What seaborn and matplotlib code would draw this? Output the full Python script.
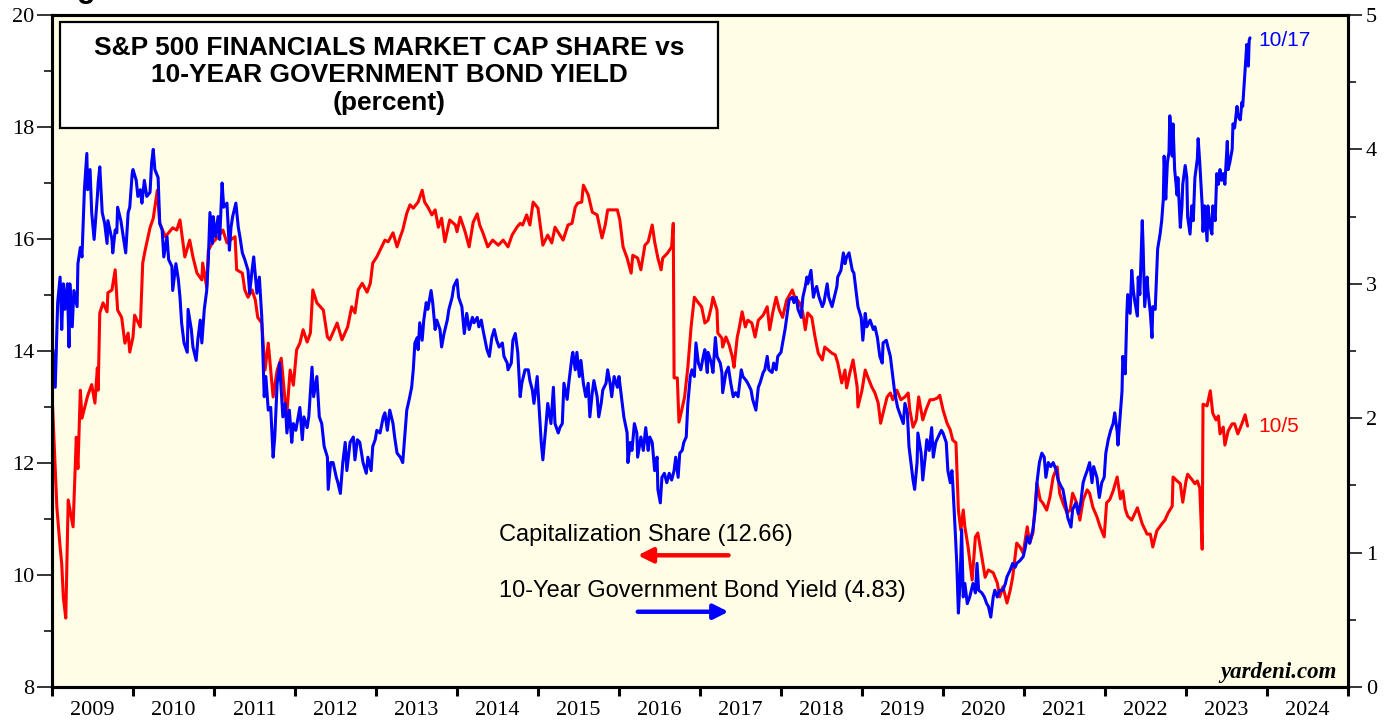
import matplotlib
matplotlib.use("Agg")
import matplotlib.pyplot as plt
import matplotlib.patches as mpatches
from matplotlib.ticker import MultipleLocator
import pandas as pd
import seaborn as sns

# ============================
# Data
# ============================
share_year = [
    2009.00, 2009.06, 2009.10, 2009.12, 2009.14, 2009.17, 2009.20, 2009.26, 2009.30, 2009.32,
    2009.35, 2009.37, 2009.44, 2009.49, 2009.53, 2009.56, 2009.57, 2009.59, 2009.63, 2009.68,
    2009.69, 2009.74, 2009.78, 2009.81, 2009.86, 2009.90, 2009.94, 2009.96, 2010.00, 2010.02,
    2010.09, 2010.12, 2010.15, 2010.21, 2010.25, 2010.30, 2010.33, 2010.40, 2010.49, 2010.54,
    2010.58, 2010.64, 2010.70, 2010.74, 2010.79, 2010.85, 2010.86, 2010.91, 2010.93, 2010.98,
    2011.05, 2011.11, 2011.16, 2011.20, 2011.26, 2011.28, 2011.35, 2011.38, 2011.42, 2011.47,
    2011.51, 2011.54, 2011.59, 2011.63, 2011.67, 2011.73, 2011.78, 2011.83, 2011.88, 2011.90,
    2011.94, 2011.98, 2012.02, 2012.06, 2012.10, 2012.15, 2012.19, 2012.22, 2012.27, 2012.35,
    2012.40, 2012.43, 2012.52, 2012.58, 2012.65, 2012.70, 2012.74, 2012.78, 2012.83, 2012.89,
    2012.93, 2012.96, 2013.01, 2013.05, 2013.11, 2013.15, 2013.21, 2013.26, 2013.30, 2013.33,
    2013.38, 2013.42, 2013.46, 2013.52, 2013.57, 2013.60, 2013.64, 2013.69, 2013.73, 2013.77,
    2013.81, 2013.85, 2013.91, 2013.98, 2014.00, 2014.04, 2014.10, 2014.15, 2014.20, 2014.25,
    2014.28, 2014.32, 2014.38, 2014.44, 2014.51, 2014.57, 2014.63, 2014.68, 2014.74, 2014.78,
    2014.81, 2014.86, 2014.90, 2014.94, 2015.00, 2015.06, 2015.12, 2015.17, 2015.21, 2015.27,
    2015.31, 2015.37, 2015.42, 2015.46, 2015.49, 2015.54, 2015.56, 2015.62, 2015.67, 2015.73,
    2015.79, 2015.83, 2015.86, 2015.93, 2015.98, 2016.01, 2016.05, 2016.10, 2016.15, 2016.17,
    2016.23, 2016.27, 2016.32, 2016.36, 2016.41, 2016.44, 2016.48, 2016.52, 2016.54, 2016.60,
    2016.65, 2016.67, 2016.68, 2016.72, 2016.74, 2016.78, 2016.81, 2016.85, 2016.89, 2016.93,
    2016.98, 2017.02, 2017.06, 2017.10, 2017.14, 2017.16, 2017.21, 2017.22, 2017.27, 2017.28,
    2017.32, 2017.36, 2017.40, 2017.42, 2017.46, 2017.48, 2017.52, 2017.56, 2017.59, 2017.64,
    2017.68, 2017.72, 2017.78, 2017.83, 2017.86, 2017.90, 2017.94, 2017.98, 2018.02, 2018.07,
    2018.14, 2018.17, 2018.23, 2018.27, 2018.30, 2018.33, 2018.38, 2018.42, 2018.46, 2018.51,
    2018.54, 2018.58, 2018.63, 2018.67, 2018.70, 2018.75, 2018.79, 2018.81, 2018.85, 2018.89,
    2018.94, 2018.95, 2019.00, 2019.04, 2019.07, 2019.12, 2019.16, 2019.20, 2019.23, 2019.26,
    2019.31, 2019.35, 2019.38, 2019.43, 2019.48, 2019.53, 2019.57, 2019.59, 2019.63, 2019.67,
    2019.70, 2019.75, 2019.79, 2019.84, 2019.88, 2019.93, 2019.96, 2020.00, 2020.05, 2020.09,
    2020.12, 2020.16, 2020.19, 2020.22, 2020.25, 2020.27, 2020.31, 2020.36, 2020.40, 2020.43,
    2020.48, 2020.52, 2020.56, 2020.62, 2020.67, 2020.70, 2020.74, 2020.79, 2020.83, 2020.86,
    2020.91, 2020.95, 2020.99, 2021.04, 2021.07, 2021.11, 2021.16, 2021.20, 2021.23, 2021.28,
    2021.32, 2021.36, 2021.41, 2021.44, 2021.48, 2021.53, 2021.57, 2021.60, 2021.65, 2021.69,
    2021.73, 2021.78, 2021.81, 2021.85, 2021.90, 2021.94, 2021.99, 2022.02, 2022.06, 2022.10,
    2022.15, 2022.19, 2022.22, 2022.25, 2022.28, 2022.33, 2022.40, 2022.46, 2022.52, 2022.56,
    2022.59, 2022.64, 2022.70, 2022.74, 2022.78, 2022.83, 2022.84, 2022.89, 2022.93, 2022.96,
    2023.00, 2023.02, 2023.07, 2023.11, 2023.14, 2023.17, 2023.20, 2023.21, 2023.26, 2023.30,
    2023.33, 2023.37, 2023.40, 2023.42, 2023.46, 2023.48, 2023.52, 2023.57, 2023.60, 2023.64,
    2023.69, 2023.73, 2023.76,
]
share_value = [
    13.25, 11.21, 10.50, 10.20, 9.60, 9.23, 11.34, 10.86, 12.46, 11.90,
    13.30, 12.80, 13.20, 13.40, 13.07, 13.70, 13.30, 14.68, 14.86, 14.70,
    15.04, 15.09, 15.45, 14.73, 14.60, 14.14, 14.32, 13.98, 14.25, 14.64,
    14.43, 15.57, 15.80, 16.20, 16.37, 16.87, 16.28, 16.04, 16.20, 16.16,
    16.34, 15.68, 15.98, 15.68, 15.39, 15.27, 15.57, 15.14, 15.80, 15.93,
    16.04, 16.16, 15.93, 15.98, 16.04, 15.45, 15.39, 15.09, 14.96, 15.09,
    14.91, 14.60, 14.50, 13.66, 14.14, 13.18, 13.66, 13.87, 13.07, 12.89,
    13.66, 13.39, 14.02, 14.14, 14.38, 14.16, 14.32, 15.09, 14.86, 14.73,
    14.25, 14.20, 14.50, 14.20, 14.43, 14.79, 14.68, 15.09, 15.21, 15.05,
    15.21, 15.57, 15.68, 15.80, 15.98, 15.95, 16.11, 15.86, 16.04, 16.16,
    16.46, 16.61, 16.55, 16.66, 16.87, 16.66, 16.57, 16.43, 16.52, 16.21,
    16.37, 15.95, 16.34, 16.25, 16.13, 16.39, 16.13, 15.86, 16.30, 16.45,
    16.25, 16.11, 15.86, 15.98, 15.89, 15.98, 15.86, 16.07, 16.21, 16.28,
    16.25, 16.43, 16.25, 16.66, 16.55, 15.89, 16.07, 15.93, 16.21, 16.07,
    15.98, 16.25, 16.28, 16.57, 16.64, 16.66, 16.96, 16.79, 16.48, 16.43,
    16.02, 16.25, 16.52, 16.52, 16.52, 16.34, 15.86, 15.66, 15.39, 15.71,
    15.66, 15.45, 15.89, 15.95, 16.25, 15.95, 15.66, 15.45, 15.66, 15.75,
    15.86, 16.28, 13.52, 13.52, 12.73, 12.98, 13.18, 13.71, 14.43, 14.96,
    14.86, 14.79, 14.50, 14.55, 14.79, 14.96, 14.73, 14.32, 14.23, 14.07,
    14.25, 14.11, 13.89, 13.71, 14.25, 14.38, 14.70, 14.43, 14.55, 14.50,
    14.25, 14.55, 14.64, 14.79, 14.38, 14.70, 14.96, 14.73, 14.60, 14.91,
    15.09, 14.96, 14.86, 14.68, 14.38, 14.68, 14.60, 14.25, 13.96, 13.84,
    14.07, 14.02, 13.96, 13.93, 13.79, 13.43, 13.66, 13.34, 13.61, 13.84,
    13.36, 13.00, 13.30, 13.66, 13.54, 13.36, 13.25, 13.07, 12.71, 12.89,
    13.18, 13.25, 13.13, 13.30, 13.13, 13.18, 13.25, 12.95, 12.64, 12.77,
    13.18, 12.77, 12.95, 13.13, 13.13, 13.16, 13.21, 12.95, 12.71, 12.59,
    12.41, 12.36, 11.16, 10.80, 11.16, 10.86, 10.50, 9.91, 10.68, 10.75,
    10.32, 9.96, 10.09, 10.04, 9.86, 9.61, 9.79, 9.50, 9.73, 9.96,
    10.57, 10.50, 10.39, 10.86, 10.57, 10.75, 11.64, 11.34, 11.29, 11.16,
    11.39, 11.75, 11.93, 11.46, 11.29, 11.11, 11.16, 11.46, 11.29, 10.98,
    11.34, 11.52, 11.46, 11.21, 11.04, 10.86, 10.68, 11.29, 11.35, 11.50,
    11.75, 11.36, 11.50, 11.18, 11.05, 10.98, 11.20, 10.91, 10.73, 10.73,
    10.50, 10.79, 10.91, 10.98, 11.11, 11.23, 11.75, 11.68, 11.63, 11.30,
    11.68, 11.80, 11.71, 11.63, 11.68, 11.55, 10.46, 13.05, 13.02, 13.29,
    12.89, 12.77, 12.84, 12.52, 12.64, 12.32, 12.57, 12.70, 12.70, 12.52,
    12.70, 12.86, 12.66,
]

yield_year = [
    2009.00, 2009.01, 2009.04, 2009.07, 2009.10, 2009.12, 2009.14, 2009.16, 2009.19, 2009.21,
    2009.22, 2009.25, 2009.27, 2009.31, 2009.32, 2009.35, 2009.37, 2009.40, 2009.43, 2009.44,
    2009.47, 2009.49, 2009.52, 2009.56, 2009.57, 2009.59, 2009.62, 2009.65, 2009.68, 2009.69,
    2009.74, 2009.75, 2009.78, 2009.80, 2009.81, 2009.85, 2009.88, 2009.91, 2009.94, 2009.96,
    2009.99, 2010.00, 2010.04, 2010.06, 2010.09, 2010.11, 2010.14, 2010.17, 2010.21, 2010.23,
    2010.25, 2010.27, 2010.31, 2010.33, 2010.36, 2010.38, 2010.42, 2010.44, 2010.48, 2010.49,
    2010.53, 2010.56, 2010.58, 2010.60, 2010.63, 2010.67, 2010.68, 2010.72, 2010.74, 2010.78,
    2010.80, 2010.83, 2010.85, 2010.88, 2010.91, 2010.93, 2010.95, 2010.98, 2010.99, 2011.02,
    2011.05, 2011.07, 2011.10, 2011.12, 2011.16, 2011.19, 2011.21, 2011.23, 2011.27, 2011.30,
    2011.32, 2011.35, 2011.38, 2011.42, 2011.44, 2011.47, 2011.49, 2011.53, 2011.56, 2011.59,
    2011.62, 2011.64, 2011.67, 2011.70, 2011.73, 2011.75, 2011.78, 2011.81, 2011.85, 2011.88,
    2011.90, 2011.93, 2011.96, 2011.98, 2012.01, 2012.04, 2012.06, 2012.09, 2012.11, 2012.15,
    2012.17, 2012.21, 2012.23, 2012.27, 2012.30, 2012.33, 2012.36, 2012.40, 2012.41, 2012.44,
    2012.47, 2012.51, 2012.53, 2012.56, 2012.59, 2012.62, 2012.64, 2012.68, 2012.72, 2012.74,
    2012.77, 2012.80, 2012.84, 2012.88, 2012.90, 2012.94, 2012.96, 2012.99, 2013.01, 2013.05,
    2013.09, 2013.11, 2013.14, 2013.17, 2013.21, 2013.23, 2013.26, 2013.30, 2013.33, 2013.36,
    2013.38, 2013.41, 2013.44, 2013.46, 2013.48, 2013.51, 2013.52, 2013.54, 2013.57, 2013.59,
    2013.62, 2013.64, 2013.68, 2013.70, 2013.73, 2013.75, 2013.79, 2013.81, 2013.84, 2013.88,
    2013.90, 2013.94, 2013.96, 2014.00, 2014.02, 2014.06, 2014.09, 2014.12, 2014.15, 2014.19,
    2014.21, 2014.25, 2014.27, 2014.30, 2014.32, 2014.37, 2014.40, 2014.43, 2014.46, 2014.49,
    2014.52, 2014.56, 2014.58, 2014.62, 2014.63, 2014.67, 2014.69, 2014.72, 2014.75, 2014.78,
    2014.80, 2014.84, 2014.88, 2014.90, 2014.93, 2014.95, 2014.99, 2015.01, 2015.04, 2015.06,
    2015.10, 2015.12, 2015.16, 2015.19, 2015.21, 2015.25, 2015.27, 2015.30, 2015.32, 2015.36,
    2015.38, 2015.42, 2015.43, 2015.46, 2015.48, 2015.51, 2015.53, 2015.56, 2015.59, 2015.62,
    2015.64, 2015.67, 2015.69, 2015.73, 2015.75, 2015.78, 2015.80, 2015.84, 2015.86, 2015.89,
    2015.91, 2015.94, 2015.98, 2016.00, 2016.04, 2016.06, 2016.10, 2016.11, 2016.14, 2016.16,
    2016.19, 2016.22, 2016.23, 2016.27, 2016.30, 2016.33, 2016.36, 2016.38, 2016.41, 2016.44,
    2016.47, 2016.48, 2016.51, 2016.53, 2016.56, 2016.59, 2016.62, 2016.65, 2016.68, 2016.70,
    2016.73, 2016.75, 2016.78, 2016.80, 2016.83, 2016.85, 2016.88, 2016.90, 2016.93, 2016.95,
    2016.98, 2017.01, 2017.04, 2017.06, 2017.09, 2017.10, 2017.14, 2017.16, 2017.19, 2017.21,
    2017.25, 2017.27, 2017.28, 2017.32, 2017.35, 2017.38, 2017.41, 2017.44, 2017.47, 2017.51,
    2017.53, 2017.57, 2017.59, 2017.63, 2017.65, 2017.69, 2017.72, 2017.74, 2017.78, 2017.80,
    2017.83, 2017.85, 2017.89, 2017.91, 2017.94, 2017.96, 2018.00, 2018.02, 2018.05, 2018.07,
    2018.10, 2018.14, 2018.16, 2018.19, 2018.21, 2018.25, 2018.27, 2018.30, 2018.32, 2018.33,
    2018.37, 2018.40, 2018.42, 2018.44, 2018.47, 2018.51, 2018.53, 2018.57, 2018.59, 2018.63,
    2018.65, 2018.69, 2018.70, 2018.74, 2018.77, 2018.79, 2018.81, 2018.84, 2018.88, 2018.90,
    2018.93, 2018.95, 2018.99, 2019.01, 2019.04, 2019.06, 2019.10, 2019.14, 2019.16, 2019.19,
    2019.22, 2019.25, 2019.26, 2019.30, 2019.32, 2019.35, 2019.37, 2019.40, 2019.42, 2019.44,
    2019.48, 2019.51, 2019.53, 2019.56, 2019.58, 2019.59, 2019.63, 2019.65, 2019.68, 2019.69,
    2019.73, 2019.75, 2019.78, 2019.80, 2019.83, 2019.86, 2019.88, 2019.91, 2019.94, 2019.98,
    2020.00, 2020.04, 2020.06, 2020.09, 2020.11, 2020.12, 2020.15, 2020.17, 2020.19, 2020.21,
    2020.23, 2020.25, 2020.27, 2020.30, 2020.33, 2020.37, 2020.40, 2020.42, 2020.44, 2020.48,
    2020.51, 2020.54, 2020.56, 2020.59, 2020.62, 2020.64, 2020.67, 2020.70, 2020.74, 2020.77,
    2020.79, 2020.83, 2020.86, 2020.89, 2020.91, 2020.95, 2020.99, 2021.01, 2021.04, 2021.07,
    2021.11, 2021.14, 2021.16, 2021.19, 2021.22, 2021.25, 2021.27, 2021.30, 2021.33, 2021.36,
    2021.40, 2021.42, 2021.46, 2021.48, 2021.52, 2021.54, 2021.58, 2021.60, 2021.64, 2021.67,
    2021.70, 2021.73, 2021.75, 2021.78, 2021.81, 2021.84, 2021.86, 2021.90, 2021.93, 2021.96,
    2021.99, 2022.01, 2022.04, 2022.07, 2022.10, 2022.12, 2022.15, 2022.16, 2022.19, 2022.21,
    2022.22, 2022.25, 2022.27, 2022.28, 2022.31, 2022.33, 2022.35, 2022.37, 2022.40, 2022.41,
    2022.43, 2022.46, 2022.47, 2022.49, 2022.52, 2022.53, 2022.56, 2022.58, 2022.59, 2022.62,
    2022.64, 2022.65, 2022.68, 2022.70, 2022.72, 2022.73, 2022.75, 2022.77, 2022.79, 2022.80,
    2022.83, 2022.84, 2022.86, 2022.89, 2022.90, 2022.93, 2022.95, 2022.96, 2022.99, 2023.01,
    2023.02, 2023.05, 2023.07, 2023.09, 2023.11, 2023.14, 2023.15, 2023.17, 2023.20, 2023.21,
    2023.23, 2023.26, 2023.27, 2023.30, 2023.32, 2023.33, 2023.36, 2023.38, 2023.40, 2023.42,
    2023.44, 2023.46, 2023.48, 2023.51, 2023.52, 2023.54, 2023.57, 2023.58, 2023.60, 2023.63,
    2023.64, 2023.67, 2023.69, 2023.70, 2023.73, 2023.75, 2023.77, 2023.78, 2023.79,
]
yield_value = [
    2.23, 2.51, 2.23, 2.86, 3.05, 2.66, 3.00, 2.81, 3.00, 2.53,
    3.00, 2.68, 2.95, 2.83, 3.15, 3.27, 3.20, 3.70, 3.97, 3.70,
    3.85, 3.53, 3.33, 3.65, 3.75, 3.87, 3.53, 3.45, 3.30, 3.47,
    3.33, 3.23, 3.40, 3.38, 3.57, 3.47, 3.35, 3.23, 3.53, 3.57,
    3.82, 3.85, 3.77, 3.65, 3.70, 3.60, 3.77, 3.65, 3.68, 3.90,
    4.00, 3.85, 3.79, 3.45, 3.40, 3.20, 3.35, 3.18, 3.13, 2.95,
    3.15, 3.03, 2.90, 2.71, 2.56, 2.49, 2.81, 2.66, 2.53, 2.43,
    2.58, 2.73, 2.56, 2.81, 2.95, 3.18, 3.53, 3.30, 3.50, 3.35,
    3.50, 3.33, 3.75, 3.57, 3.60, 3.25, 3.42, 3.50, 3.60, 3.42,
    3.35, 3.23, 3.18, 3.10, 2.93, 3.10, 3.20, 2.93, 3.05, 2.75,
    2.16, 2.31, 2.06, 2.08, 1.71, 1.86, 2.26, 2.41, 2.01, 2.11,
    1.89, 2.06, 1.82, 1.96, 1.91, 2.01, 2.08, 1.84, 2.01, 1.93,
    2.01, 2.38, 2.16, 2.31, 2.01, 1.96, 1.79, 1.71, 1.47, 1.67,
    1.67, 1.56, 1.52, 1.44, 1.67, 1.82, 1.61, 1.82, 1.86, 1.69,
    1.84, 1.82, 1.67, 1.59, 1.71, 1.61, 1.79, 1.84, 1.91, 1.89,
    2.01, 2.04, 1.91, 2.06, 1.96, 1.86, 1.74, 1.71, 1.67, 1.91,
    2.06, 2.14, 2.23, 2.36, 2.56, 2.60, 2.51, 2.71, 2.58, 2.73,
    2.86, 2.81, 2.95, 2.86, 2.66, 2.73, 2.66, 2.53, 2.63, 2.73,
    2.81, 2.90, 2.98, 3.03, 2.90, 2.83, 2.63, 2.78, 2.66, 2.75,
    2.71, 2.75, 2.68, 2.73, 2.66, 2.51, 2.46, 2.60, 2.66, 2.58,
    2.53, 2.56, 2.46, 2.41, 2.36, 2.41, 2.58, 2.63, 2.49, 2.16,
    2.26, 2.36, 2.36, 2.28, 2.21, 2.11, 2.31, 2.11, 1.82, 1.69,
    1.96, 2.11, 1.96, 2.23, 1.96, 1.89, 1.93, 1.96, 2.26, 2.14,
    2.26, 2.46, 2.49, 2.36, 2.49, 2.31, 2.43, 2.26, 2.16, 2.26,
    2.01, 2.19, 2.28, 2.16, 2.01, 2.11, 2.21, 2.26, 2.36, 2.26,
    2.16, 2.31, 2.23, 2.31, 2.11, 2.01, 1.89, 1.67, 1.82, 1.76,
    1.96, 1.89, 1.71, 1.86, 1.76, 1.93, 1.76, 1.86, 1.82, 1.61,
    1.71, 1.47, 1.37, 1.56, 1.59, 1.52, 1.59, 1.54, 1.61, 1.71,
    1.56, 1.74, 1.76, 1.82, 1.86, 2.11, 2.31, 2.36, 2.31, 2.56,
    2.41, 2.36, 2.46, 2.51, 2.34, 2.49, 2.41, 2.34, 2.60, 2.46,
    2.41, 2.34, 2.19, 2.34, 2.38, 2.26, 2.16, 2.19, 2.16, 2.36,
    2.31, 2.28, 2.26, 2.21, 2.14, 2.06, 2.23, 2.26, 2.34, 2.36,
    2.46, 2.36, 2.34, 2.41, 2.36, 2.46, 2.49, 2.56, 2.66, 2.75,
    2.88, 2.90, 2.86, 2.90, 2.81, 2.75, 2.90, 2.98, 3.05, 3.00,
    3.10, 2.90, 2.95, 2.98, 2.90, 2.83, 2.86, 3.00, 2.90, 2.83,
    2.88, 2.98, 3.05, 3.10, 3.23, 3.15, 3.20, 3.23, 3.10, 3.08,
    2.93, 2.83, 2.75, 2.58, 2.78, 2.68, 2.73, 2.66, 2.68, 2.60,
    2.46, 2.41, 2.56, 2.58, 2.53, 2.46, 2.36, 2.21, 2.14, 2.08,
    2.01, 1.96, 2.11, 2.04, 1.79, 1.74, 1.54, 1.47, 1.67, 1.89,
    1.74, 1.54, 1.71, 1.84, 1.76, 1.93, 1.71, 1.82, 1.86, 1.91,
    1.89, 1.82, 1.61, 1.52, 1.61, 1.52, 1.17, 0.92, 0.55, 0.77,
    1.17, 0.67, 0.77, 0.62, 0.67, 0.77, 0.70, 0.92, 0.72, 0.70,
    0.67, 0.62, 0.60, 0.52, 0.67, 0.72, 0.67, 0.72, 0.72, 0.77,
    0.82, 0.87, 0.92, 0.89, 0.92, 0.94, 0.97, 1.02, 1.12, 1.07,
    1.17, 1.32, 1.52, 1.67, 1.74, 1.71, 1.56, 1.67, 1.64, 1.67,
    1.61, 1.54, 1.49, 1.47, 1.34, 1.26, 1.19, 1.32, 1.37, 1.29,
    1.37, 1.52, 1.56, 1.61, 1.67, 1.52, 1.64, 1.56, 1.41, 1.52,
    1.56, 1.74, 1.84, 1.91, 1.96, 2.04, 1.90, 1.80, 2.04, 2.20,
    2.46, 2.33, 2.78, 2.92, 2.78, 3.10, 2.95, 2.86, 2.76, 3.05,
    2.92, 3.47, 3.29, 2.83, 3.05, 2.95, 2.78, 2.60, 2.83, 2.81,
    3.10, 3.26, 3.37, 3.47, 3.63, 3.95, 3.63, 3.90, 3.98, 4.25,
    3.95, 4.19, 3.85, 3.66, 3.79, 3.42, 3.58, 3.74, 3.88, 3.79,
    3.50, 3.37, 3.58, 3.47, 3.79, 3.93, 4.08, 3.90, 3.58, 3.39,
    3.58, 3.32, 3.58, 3.42, 3.37, 3.58, 3.47, 3.82, 3.74, 3.85,
    3.77, 3.82, 3.74, 4.06, 3.85, 3.90, 4.00, 4.19, 4.16, 4.32,
    4.25, 4.22, 4.35, 4.32, 4.59, 4.78, 4.62, 4.81, 4.83,
]

year_labels = ["2009", "2010", "2011", "2012", "2013", "2014", "2015", "2016",
               "2017", "2018", "2019", "2020", "2021", "2022", "2023", "2024"]

title_lines = "S&P 500 FINANCIALS MARKET CAP SHARE vs\n10-YEAR GOVERNMENT BOND YIELD\n(percent)"
share_label = "Capitalization Share (12.66)"
yield_label = "10-Year Government Bond Yield (4.83)"
share_end = "10/5"
yield_end = "10/17"

share = pd.DataFrame({"year": share_year, "value": share_value})
bond = pd.DataFrame({"year": yield_year, "value": yield_value})

# ============================
# Figure
# ============================
sns.set_style("ticks")
plt.rcParams["font.family"] = ["Liberation Sans", "DejaVu Sans"]
plt.rcParams["text.color"] = "black"
plt.rcParams["xtick.color"] = "black"
plt.rcParams["ytick.color"] = "black"
plt.rcParams["axes.labelcolor"] = "black"

RED = "#FF0000"
BLUE = "#0000FF"
SERIF = "Liberation Serif"

fig = plt.figure(figsize=(13.94, 7.21), dpi=100)
fig.patch.set_facecolor("white")
ax = fig.add_axes([52 / 1394, 34 / 721, 1296 / 1394, 672 / 721])
ax.set_facecolor("#FFFDE6")
ax2 = ax.twinx()

sns.lineplot(data=share, x="year", y="value", ax=ax, color=RED, linewidth=2.2,
             estimator=None, sort=False)
sns.lineplot(data=bond, x="year", y="value", ax=ax2, color=BLUE, linewidth=2.2,
             estimator=None, sort=False)

# axes limits & ticks
ax.set_xlim(2009, 2025)
ax.set_ylim(8, 20)
ax2.set_ylim(0, 5)
ax.set_xlabel("")
ax.set_ylabel("")
ax2.set_ylabel("")

ax.set_xticks(range(2009, 2026))
ax.set_xticklabels([])
ax.set_xticks([int(y) + 0.5 for y in year_labels], minor=True)
ax.set_xticklabels(year_labels, minor=True, fontfamily=SERIF, fontsize=16)
ax.tick_params(axis="x", which="major", direction="out", length=6.5, width=2.2)
ax.tick_params(axis="x", which="minor", length=0, pad=10)

ax.yaxis.set_major_locator(MultipleLocator(2))
ax.yaxis.set_minor_locator(MultipleLocator(1))
ax.tick_params(axis="y", which="major", direction="out", length=11, width=1.1,
               labelsize=16, pad=2)
ax.tick_params(axis="y", which="minor", direction="out", length=6, width=1.1)
for lab in ax.get_yticklabels():
    lab.set_fontfamily(SERIF)

ax2.yaxis.set_major_locator(MultipleLocator(1))
ax2.yaxis.set_minor_locator(MultipleLocator(0.5))
ax2.tick_params(axis="y", which="major", direction="out", length=10, width=1.1,
                labelsize=16, pad=3)
ax2.tick_params(axis="y", which="minor", direction="out", length=5.5, width=1.1)
for lab in ax2.get_yticklabels():
    lab.set_fontfamily(SERIF)

for a in (ax, ax2):
    for side in ("left", "right", "top", "bottom"):
        a.spines[side].set_visible(True)
        a.spines[side].set_linewidth(2.2)
        a.spines[side].set_color("black")

# title box
box = mpatches.Rectangle((0.006, 0.832), 0.508, 0.158, transform=ax2.transAxes,
                         facecolor="white", edgecolor="black", linewidth=1.6, zorder=5)
ax2.add_patch(box)
ax2.text(0.26, 0.910, title_lines, transform=ax2.transAxes, ha="center", va="center",
         fontsize=19, fontweight="bold", linespacing=1.18, zorder=6)

# legend-like labels with arrows
ax2.text(0.345, 0.226, share_label, transform=ax2.transAxes, ha="left", va="center",
         fontsize=17)
ax2.text(0.345, 0.143, yield_label, transform=ax2.transAxes, ha="left", va="center",
         fontsize=17)
ax2.annotate("", xy=(0.452, 0.196), xytext=(0.522, 0.196), xycoords="axes fraction",
             arrowprops=dict(arrowstyle="-|>", color=RED, lw=3.2, mutation_scale=22,
                             shrinkA=0, shrinkB=0))
ax2.annotate("", xy=(0.522, 0.112), xytext=(0.452, 0.112), xycoords="axes fraction",
             arrowprops=dict(arrowstyle="-|>", color=BLUE, lw=3.2, mutation_scale=22,
                             shrinkA=0, shrinkB=0))

# end-point labels
ax.annotate(share_end, xy=(share_year[-1], share_value[-1]), xytext=(8, 0),
            textcoords="offset points", color=RED, fontsize=15, va="center", ha="left")
ax2.annotate(yield_end, xy=(yield_year[-1], yield_value[-1]), xytext=(6, -2),
             textcoords="offset points", color=BLUE, fontsize=15, va="center", ha="left")

ax2.text(0.9915, 0.022, "yardeni.com", transform=ax2.transAxes, ha="right", va="center",
         fontsize=16.5, fontfamily=SERIF, fontweight="bold", fontstyle="italic")

# clipped figure caption at the very top
fig.text(50 / 1394, 1 + 3 / 721, "Figure", fontsize=22, fontweight="bold",
         ha="left", va="baseline")

fig.savefig("out.png", dpi=100)
